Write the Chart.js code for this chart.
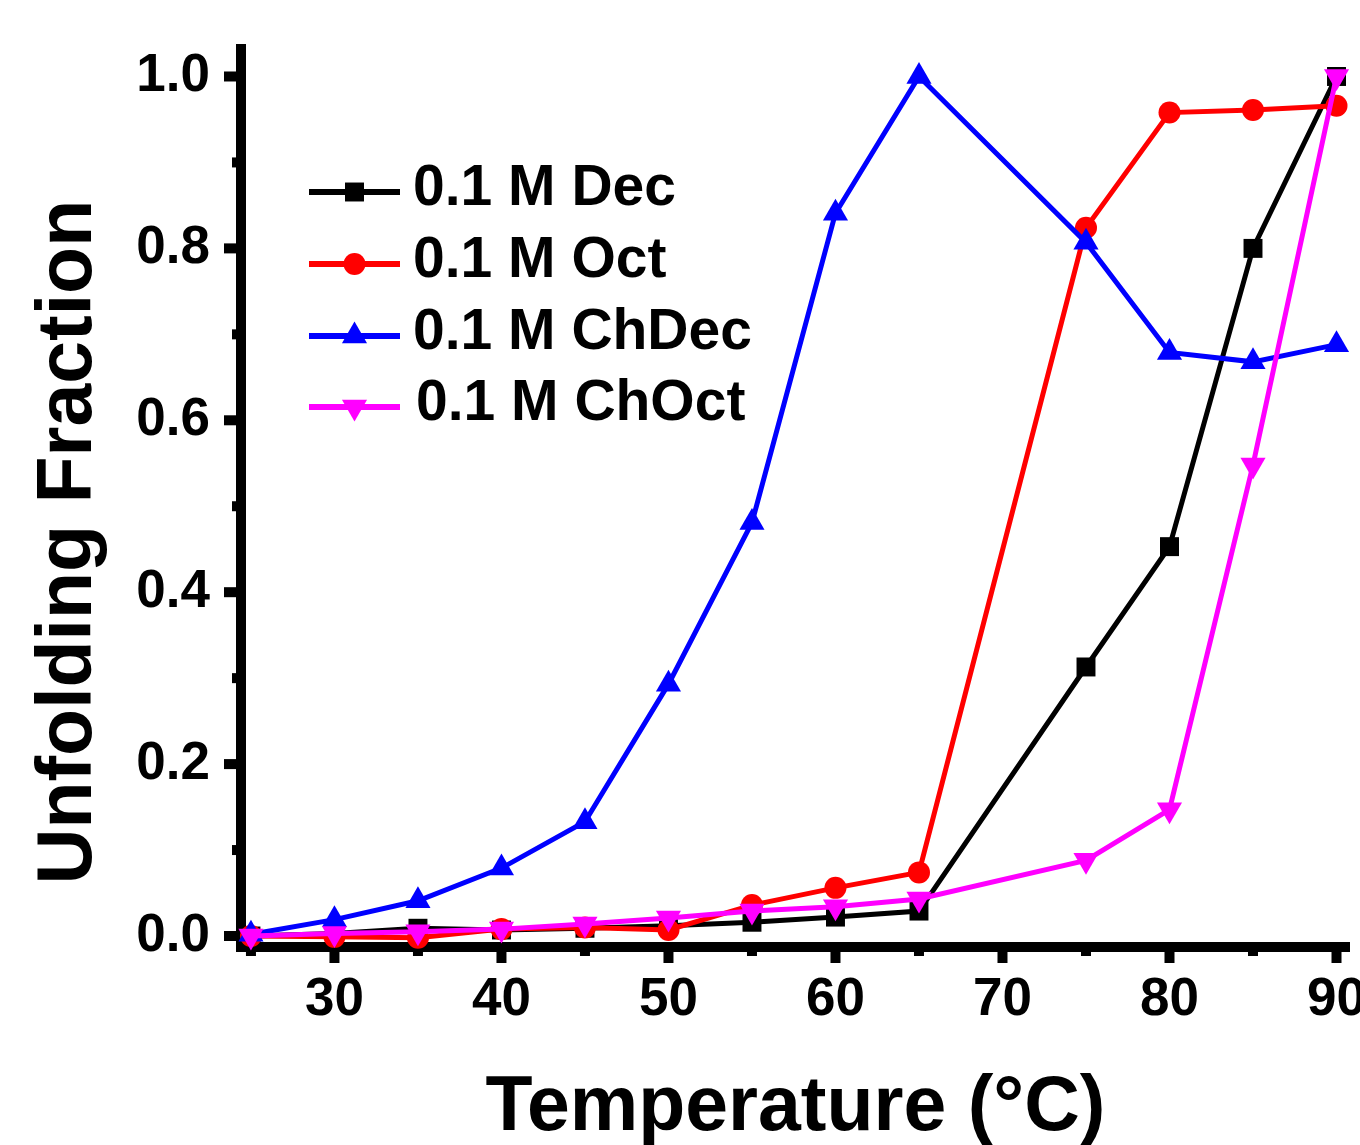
<!DOCTYPE html>
<html>
<head>
<meta charset="utf-8">
<script src="https://cdn.jsdelivr.net/npm/chart.js@4.4.1/dist/chart.umd.min.js"></script>
<style>
  html, body { margin: 0; padding: 0; background: #fff; overflow: hidden; }
  #wrap { width: 1360px; height: 1145px; overflow: hidden; position: relative; }
  canvas { display: block; }
</style>
</head>
<body>
<div id="wrap"><canvas id="c" width="1420" height="1145" style="width:1420px;height:1145px"></canvas></div>
<script>
// ---- data ----
const temps = [25, 30, 35, 40, 45, 50, 55, 60, 65, 75, 80, 85, 90];
const dec   = [0.000, 0.003, 0.009, 0.007, 0.009, 0.012, 0.016, 0.022, 0.029, 0.313, 0.453, 0.800, 1.000];
const oct   = [0.000, -0.001, -0.002, 0.008, 0.010, 0.007, 0.036, 0.056, 0.074, 0.824, 0.958, 0.961, 0.966];
const chDec = [0.002, 0.019, 0.041, 0.079, 0.133, 0.293, 0.481, 0.841, 1.000, 0.807, 0.679, 0.668, 0.688];
const chOct = [0.000, 0.003, 0.005, 0.008, 0.014, 0.021, 0.029, 0.034, 0.043, 0.088, 0.147, 0.548, 1.000];
const seriesLabels = ['0.1 M Dec', '0.1 M Oct', '0.1 M ChDec', '0.1 M ChOct'];
const xMajorTicks = [30, 40, 50, 60, 70, 80, 90];
const xMinorTicks = [25, 35, 45, 55, 65, 75, 85];
const yMajorTicks = [0.0, 0.2, 0.4, 0.6, 0.8, 1.0];
const yMinorTicks = [0.1, 0.3, 0.5, 0.7, 0.9];
const xTitle = 'Temperature (°C)';
const yTitle = 'Unfolding Fraction';

const FONT = '"Liberation Sans", Arial, Helvetica, sans-serif';

function pts(vals) { return temps.map((t, i) => ({ x: t, y: vals[i] })); }

const styles = [
  { color: '#000000', pointStyle: 'rect', radius: 13.4, rotation: 0 },
  { color: '#ff0000', pointStyle: 'circle', radius: 11, rotation: 0 },
  { color: '#0000ff', pointStyle: 'triangle', radius: 14.5, rotation: 0 },
  { color: '#ff00ff', pointStyle: 'triangle', radius: 14.5, rotation: 180 }
];
const seriesData = [dec, oct, chDec, chOct];

const datasets = seriesData.map((vals, i) => ({
  label: seriesLabels[i],
  data: pts(vals),
  order: seriesData.length - i,
  borderColor: styles[i].color,
  backgroundColor: styles[i].color,
  pointBackgroundColor: styles[i].color,
  pointBorderColor: styles[i].color,
  pointStyle: styles[i].pointStyle,
  pointRadius: styles[i].radius,
  pointHoverRadius: styles[i].radius,
  pointRotation: styles[i].rotation,
  pointBorderWidth: 0,
  borderWidth: 5,
  tension: 0,
  fill: false,
  clip: false
}));

// axes + ticks drawn under datasets
const axesPlugin = {
  id: 'axesPlugin',
  beforeDatasetsDraw(chart) {
    const { ctx, chartArea: a, scales: { x, y } } = chart;
    ctx.save();
    ctx.fillStyle = '#000';
    ctx.fillRect(a.left - 5, a.top, 10, a.bottom + 5 - a.top);
    ctx.fillRect(a.left - 5, a.bottom - 5, a.right - (a.left - 5), 10);
    xMajorTicks.forEach(v => { const p = x.getPixelForValue(v); ctx.fillRect(p - 5, a.bottom + 5, 10, 11); });
    xMinorTicks.forEach(v => { const p = x.getPixelForValue(v); ctx.fillRect(p - 5, a.bottom + 5, 10, 4); });
    yMajorTicks.forEach(v => { const p = y.getPixelForValue(v); ctx.fillRect(a.left - 5 - 12, p - 5, 12, 10); });
    yMinorTicks.forEach(v => { const p = y.getPixelForValue(v); ctx.fillRect(a.left - 5 - 4, p - 5, 4, 10); });
    ctx.restore();
  },
  afterDraw(chart) {
    const { ctx } = chart;
    ctx.save();
    ctx.fillStyle = '#000';
    ctx.font = 'bold 77px ' + FONT;
    ctx.textAlign = 'center';
    ctx.textBaseline = 'middle';
    ctx.translate(70, 542);
    ctx.rotate(-Math.PI / 2);
    ctx.fillText(yTitle, 0, 0);
    ctx.restore();
    // legend
    ctx.save();
    const rows = [192, 264, 336, 407];
    seriesLabels.forEach((lab, i) => {
      const ds = chart.data.datasets[i];
      const yy = rows[i];
      ctx.strokeStyle = ds.borderColor;
      ctx.lineWidth = 6;
      ctx.beginPath();
      ctx.moveTo(309, yy);
      ctx.lineTo(400, yy);
      ctx.stroke();
      ctx.fillStyle = ds.pointBackgroundColor;
      ctx.strokeStyle = ds.pointBorderColor;
      Chart.helpers.drawPoint(ctx, {
        pointStyle: ds.pointStyle, rotation: ds.pointRotation,
        radius: ds.pointRadius, borderWidth: 0
      }, 354.5, yy);
      ctx.fillStyle = '#000';
      ctx.font = 'bold 57px ' + FONT;
      ctx.textAlign = 'left';
      ctx.textBaseline = 'middle';
      ctx.fillText(lab, i === 3 ? 416 : 413, yy - 3);
    });
    ctx.restore();
  }
};

new Chart(document.getElementById('c'), {
  type: 'line',
  data: { datasets },
  plugins: [axesPlugin],
  options: {
    responsive: false,
    animation: false,
    devicePixelRatio: 1,
    layout: { padding: { left: 0, top: 44, right: 70, bottom: 0 } },
    plugins: { legend: { display: false }, tooltip: { enabled: false } },
    scales: {
      x: {
        type: 'linear',
        min: 24.404,
        max: 90.808,
        border: { display: false },
        grid: { display: false, drawTicks: false },
        afterBuildTicks(s) { s.ticks = xMajorTicks.map(v => ({ value: v })); },
        afterFit(s) { s.height = 198; s.paddingLeft = 0; s.paddingRight = 0; },
        ticks: {
          color: '#000',
          padding: 22,
          maxRotation: 0,
          autoSkip: false,
          font: { family: FONT, weight: 'bold', size: 53 },
          callback: v => String(v)
        },
        title: {
          display: true,
          text: xTitle,
          color: '#000',
          font: { family: FONT, weight: 'bold', size: 77, lineHeight: 0.94 },
          padding: { top: 0, bottom: 0 }
        }
      },
      y: {
        type: 'linear',
        min: -0.0128,
        max: 1.0378,
        border: { display: false },
        grid: { display: false, drawTicks: false },
        afterBuildTicks(s) { s.ticks = yMajorTicks.map(v => ({ value: v })); },
        afterFit(s) { s.width = 241; s.paddingTop = 0; s.paddingBottom = 0; },
        ticks: {
          color: '#000',
          padding: 31,
          autoSkip: false,
          font: { family: FONT, weight: 'bold', size: 53 },
          callback: v => Number(v).toFixed(1)
        },
        title: { display: false }
      }
    }
  }
});
</script>
</body>
</html>
